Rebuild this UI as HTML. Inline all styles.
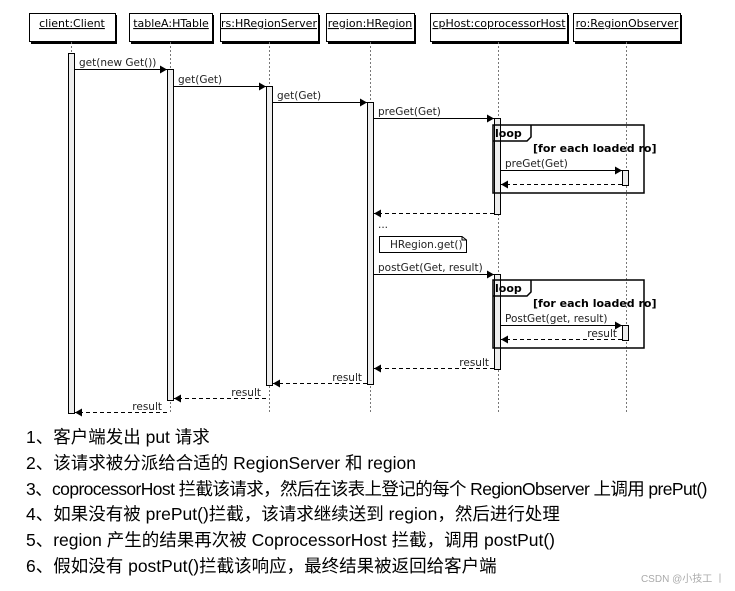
<!DOCTYPE html>
<html><head><meta charset="utf-8"><style>
body{margin:0;background:#fff;width:735px;height:591px;overflow:hidden;position:relative}
svg{position:absolute;left:0;top:0}
.t{position:absolute;left:26px;font-family:"Liberation Sans","Noto Sans CJK SC",sans-serif;font-size:17.5px;color:#000;white-space:nowrap;line-height:20px}
</style></head><body>
<svg width="735" height="591" font-family="DejaVu Sans, sans-serif" font-size="10.5">
<defs><marker id="a" markerWidth="8" markerHeight="8" refX="7" refY="4" orient="auto" markerUnits="userSpaceOnUse"><path d="M0,0 L7,4 L0,8 z" fill="#000"/></marker></defs>
<g fill="#000"><rect x="31" y="15" width="86" height="29"/><rect x="131" y="15" width="83" height="29"/><rect x="222" y="15" width="98" height="29"/><rect x="328" y="15" width="88" height="29"/><rect x="432" y="15" width="137" height="29"/><rect x="575" y="15" width="107" height="29"/></g>
<g fill="#fff" stroke="#000"><rect x="29.5" y="13.5" width="86" height="28"/><rect x="129.5" y="13.5" width="83" height="28"/><rect x="220.5" y="13.5" width="98" height="28"/><rect x="326.5" y="13.5" width="88" height="28"/><rect x="430.5" y="13.5" width="137" height="28"/><rect x="573.5" y="13.5" width="107" height="28"/></g>
<g text-anchor="middle" text-decoration="underline" font-size="11"><text x="72" y="27">client:Client</text><text x="171" y="27">tableA:HTable</text><text x="269" y="27">rs:HRegionServer</text><text x="370" y="27">region:HRegion</text><text x="499" y="27">cpHost:coprocessorHost</text><text x="627" y="27">ro:RegionObserver</text></g>
<g stroke="#777" stroke-dasharray="2,2"><line x1="71.5" y1="42" x2="71.5" y2="413"/><line x1="170.5" y1="42" x2="170.5" y2="413"/><line x1="269.5" y1="42" x2="269.5" y2="413"/><line x1="370.5" y1="42" x2="370.5" y2="413"/><line x1="498.5" y1="42" x2="498.5" y2="413"/><line x1="626.5" y1="42" x2="626.5" y2="413"/></g>
<g fill="#eee" stroke="#000"><rect x="68.5" y="53.5" width="6" height="360"/><rect x="167.5" y="69.5" width="6" height="331"/><rect x="266.5" y="86.5" width="6" height="299"/><rect x="367.5" y="102.5" width="6" height="282"/><rect x="494.5" y="118.5" width="6" height="96"/><rect x="494.5" y="274.5" width="6" height="95"/><rect x="622.5" y="170.5" width="6" height="15"/><rect x="622.5" y="325.5" width="6" height="15"/></g>
<g fill="none" stroke="#000" stroke-width="1.5"><rect x="493" y="125" width="151" height="68"/><path d="M493,141 H527 L531,137 V125"/><rect x="493" y="280" width="151" height="68"/><path d="M493,296 H527 L531,292 V280"/></g>
<g font-weight="bold" font-size="11"><text x="495" y="137">loop</text><text x="495" y="292">loop</text><text x="533" y="152">[for each loaded ro]</text><text x="533" y="307">[for each loaded ro]</text></g>
<g stroke="#000" marker-end="url(#a)"><line x1="75" y1="69.5" x2="167" y2="69.5"/><line x1="174" y1="86.5" x2="266" y2="86.5"/><line x1="273" y1="102.5" x2="367" y2="102.5"/><line x1="374" y1="118.5" x2="494" y2="118.5"/><line x1="501" y1="170.5" x2="622" y2="170.5"/><line x1="374" y1="274.5" x2="494" y2="274.5"/><line x1="501" y1="325.5" x2="622" y2="325.5"/></g>
<g stroke="#000" stroke-dasharray="4,3" marker-end="url(#a)"><line x1="622" y1="184.5" x2="501" y2="184.5"/><line x1="494" y1="213.5" x2="374" y2="213.5"/><line x1="622" y1="339.5" x2="501" y2="339.5"/><line x1="494" y1="368.5" x2="374" y2="368.5"/><line x1="367" y1="383.5" x2="273" y2="383.5"/><line x1="266" y1="398.5" x2="174" y2="398.5"/><line x1="167" y1="412.5" x2="75" y2="412.5"/></g>
<g fill="#222"><text x="79" y="66">get(new Get())</text><text x="178" y="83">get(Get)</text><text x="277" y="99">get(Get)</text><text x="378" y="115">preGet(Get)</text><text x="505" y="167">preGet(Get)</text><text x="378" y="228">...</text><text x="378" y="271">postGet(Get, result)</text><text x="505" y="322">PostGet(get, result)</text>
<g text-anchor="end"><text x="617" y="337">result</text><text x="489" y="366">result</text><text x="362" y="381">result</text><text x="261" y="396">result</text><text x="162" y="410">result</text></g></g>
<path d="M379.5,236.5 H462 L466.5,240 V252.5 H379.5 Z" fill="#fff" stroke="#000"/><path d="M462,236.5 V240 H466.5" fill="none" stroke="#000"/>
<text x="390" y="248" fill="#222">HRegion.get()</text>
<text x="725" y="582" text-anchor="end" font-size="10" fill="#aaa" font-family="Liberation Sans, Noto Sans CJK SC, sans-serif">CSDN @小技工 丨</text>
</svg>
<div class="t" style="top:427px">1、客户端发出 put 请求</div>
<div class="t" style="top:453px">2、该请求被分派给合适的 RegionServer 和 region</div>
<div class="t" style="top:479px;letter-spacing:-0.6px">3、coprocessorHost 拦截该请求，然后在该表上登记的每个 RegionObserver 上调用 prePut()</div>
<div class="t" style="top:504px">4、如果没有被 prePut()拦截，该请求继续送到 region，然后进行处理</div>
<div class="t" style="top:530px">5、region 产生的结果再次被 CoprocessorHost 拦截，调用 postPut()</div>
<div class="t" style="top:556px">6、假如没有 postPut()拦截该响应，最终结果被返回给客户端</div>
</body></html>
